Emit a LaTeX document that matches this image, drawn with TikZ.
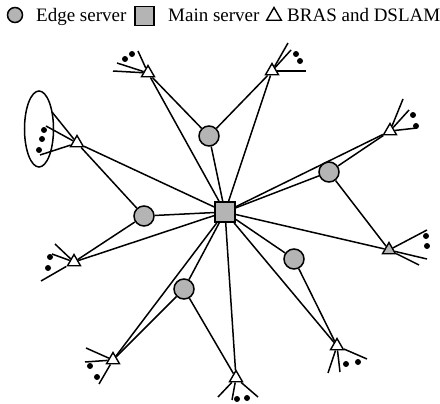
\documentclass[tikz,border=0pt]{standalone}
\usepackage{fontspec}
\setmainfont{Liberation Serif}
\usetikzlibrary{shapes.geometric}
\definecolor{servergray}{RGB}{180,180,180}
\tikzset{
	link/.style={line width=1.5pt},
	edgesrv/.style={circle,draw,line width=1.5pt,fill=servergray,minimum size=20pt,inner sep=0pt},
	mainsrv/.style={rectangle,draw,line width=1.8pt,fill=servergray,minimum size=20pt,inner sep=0pt},
	bras/.style={regular polygon,regular polygon sides=3,draw,line width=1.4pt,fill=white,minimum size=15pt,inner sep=0pt},
	dslamdot/.style={circle,fill=black,minimum size=6pt,inner sep=0pt},
	legendtext/.style={anchor=base west,inner sep=0pt,font=\fontsize{19}{21}\selectfont}
}
\begin{document}
\begin{tikzpicture}[x=1pt,y=-1pt]
	\useasboundingbox (0,0) rectangle (440,404);
	\node[edgesrv,minimum size=15pt] (legedge) at (15,15) {};
	\node[legendtext] (legedgetxt) at (36,21.5) {Edge server};
	\node[mainsrv,minimum size=19pt,line width=1.6pt] (legmain) at (144.5,16) {};
	\node[legendtext] (legmaintxt) at (168,21.5) {Main server};
	\node[bras,minimum size=17pt] (legbras) at (274,16) {};
	\node[legendtext] (legbrastxt) at (287,21.5) {BRAS and DSLAM};
	\node[mainsrv] (main) at (225,212) {};
	\node[edgesrv] (e1) at (209,136) {};
	\node[edgesrv] (e2) at (144,216) {};
	\node[edgesrv] (e3) at (329,172) {};
	\node[edgesrv] (e4) at (184,289) {};
	\node[edgesrv] (e5) at (294,259) {};
	\node[bras] (b1) at (148,73) {};
	\node[bras] (b2) at (272,71) {};
	\node[bras] (b3) at (390,131) {};
	\node[bras,fill=servergray] (b4) at (389,250) {};
	\node[bras] (b5) at (337,346) {};
	\node[bras] (b6) at (236,378) {};
	\node[bras] (b7) at (113,360) {};
	\node[bras] (b8) at (74,262) {};
	\node[bras] (b9) at (77,143) {};
	\coordinate (b1a) at (113,71); \coordinate (b1b) at (117,63); \coordinate (b1c) at (138,51);
	\coordinate (b2a) at (288,43); \coordinate (b2b) at (291,50); \coordinate (b2c) at (306,71);
	\coordinate (b3a) at (403,99); \coordinate (b3b) at (409,110); \coordinate (b3c) at (417,128);
	\coordinate (b4a) at (427,230); \coordinate (b4b) at (427,259); \coordinate (b4c) at (419,265);
	\coordinate (b5a) at (328,373); \coordinate (b5b) at (340,372); \coordinate (b5c) at (367,359);
	\coordinate (b6a) at (218,397); \coordinate (b6b) at (232,400); \coordinate (b6c) at (258,397);
	\coordinate (b7a) at (86,348); \coordinate (b7b) at (85,362); \coordinate (b7c) at (99,384);
	\coordinate (b8a) at (55,244); \coordinate (b8b) at (52,254); \coordinate (b8c) at (41,281);
	\coordinate (b9a) at (52,112); \coordinate (b9b) at (46,126); \coordinate (b9c) at (40,155);
	\foreach \i in {1,...,9} {
		\draw[link] (main) -- (b\i);
		\foreach \k in {a,b,c}
			\draw[link] (b\i) -- (b\i\k);
	}
	\foreach \i in {1,...,5}
		\draw[link] (main) -- (e\i);
	\draw[link] (e1) -- (b1);
	\draw[link] (e1) -- (b2);
	\draw[link] (e2) -- (b8);
	\draw[link] (e2) -- (b9);
	\draw[link] (e3) -- (b3);
	\draw[link] (e3) -- (b4);
	\draw[link] (e4) -- (b7);
	\draw[link] (e4) -- (b6);
	\draw[link] (e5) -- (b5);
	\foreach \p [count=\n] in {(125,59),(132,54),(296,54),(300,61),(413,115),(416,126),(426,236),(427,246),(346,364),(358,362),(237,399),(247,398),(90,366),(97,377),(50,257),(48,268),(44,130),(42,139),(39,150)}
		\node[dslamdot] (dot\n) at \p {};
	\draw[link] (39,129) ellipse (14.5 and 38);
\end{tikzpicture}
\end{document}
